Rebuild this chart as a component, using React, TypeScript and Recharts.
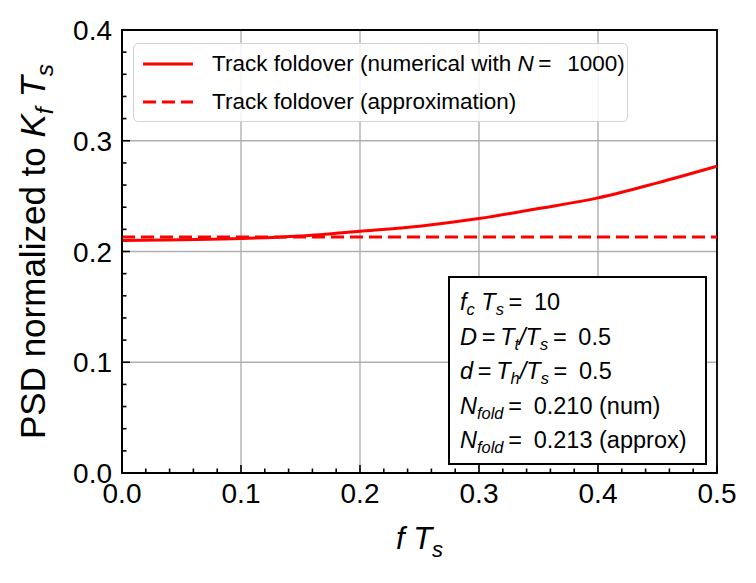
import React from 'react'
import {
  CartesianGrid,
  Legend,
  Line,
  LineChart,
  ReferenceArea,
  XAxis,
  YAxis,
} from 'recharts'

const FONT = '"Liberation Sans", Arial, Helvetica, sans-serif'
const RED = '#ff0000'
const GRID = '#b0b0b0'

// normalized frequency f*Ts
const fTs = [0, 0.05, 0.1, 0.15, 0.2, 0.25, 0.3, 0.35, 0.4, 0.45, 0.5]
// PSD / (Kf Ts)
const numerical = [0.21, 0.2107, 0.2117, 0.2141, 0.2183, 0.2229, 0.2297, 0.2388, 0.2484, 0.262, 0.277]
const approximation = [0.213, 0.213, 0.213, 0.213, 0.213, 0.213, 0.213, 0.213, 0.213, 0.213, 0.213]

const xTicks = [
  0, 0.02, 0.04, 0.06, 0.08, 0.1, 0.12, 0.14, 0.16, 0.18, 0.2, 0.22, 0.24,
  0.26, 0.28, 0.3, 0.32, 0.34, 0.36, 0.38, 0.4, 0.42, 0.44, 0.46, 0.48, 0.5,
]
const yTicks = [
  0, 0.02, 0.04, 0.06, 0.08, 0.1, 0.12, 0.14, 0.16, 0.18, 0.2, 0.22, 0.24,
  0.26, 0.28, 0.3, 0.32, 0.34, 0.36, 0.38, 0.4,
]
const xMajor = [0, 0.1, 0.2, 0.3, 0.4, 0.5]
const yMajor = [0, 0.1, 0.2, 0.3, 0.4]

const fcTs = 10
const dutyD = 0.5
const dutyd = 0.5
const nFoldNum = 0.21
const nFoldApprox = 0.213

const data = fTs.map((f, i) => ({
  f,
  numerical: numerical[i],
  approximation: approximation[i],
}))

function isMajor(v: number) {
  return Math.abs(v * 10 - Math.round(v * 10)) < 1e-6
}

function XTick({ x, y, payload }: any) {
  const major = isMajor(payload.value)
  return (
    <g>
      <line x1={x} x2={x} y1={y} y2={y - (major ? 8 : 4.5)} stroke="#000" strokeWidth={1.6} />
      {major && (
        <text x={x} y={y + 30} textAnchor="middle" fontSize={28} fontFamily={FONT} fill="#000">
          {payload.value.toFixed(1)}
        </text>
      )}
    </g>
  )
}

function YTick({ x, y, payload }: any) {
  const major = isMajor(payload.value)
  return (
    <g>
      <line x1={x} x2={x + (major ? 8 : 4.5)} y1={y} y2={y} stroke="#000" strokeWidth={1.6} />
      {major && (
        <text x={x - 10} y={y + 10} textAnchor="end" fontSize={28} fontFamily={FONT} fill="#000">
          {payload.value.toFixed(1)}
        </text>
      )}
    </g>
  )
}

function XTitle({ viewBox }: any) {
  const cx = viewBox.x + viewBox.width / 2
  const by = viewBox.y + 76
  return (
    <text x={cx} y={by} textAnchor="middle" fontSize={31} fontFamily={FONT} fill="#000">
      <tspan fontStyle="italic">f</tspan>
      <tspan> </tspan>
      <tspan fontStyle="italic">T</tspan>
      <tspan fontStyle="italic" fontSize={22} dy={8}>s</tspan>
    </text>
  )
}

function YTitle({ viewBox }: any) {
  const cx = viewBox.x + 45
  const cy = viewBox.y + viewBox.height / 2
  return (
    <text
      x={cx}
      y={cy}
      transform={`rotate(-90 ${cx} ${cy})`}
      textAnchor="middle"
      fontSize={35}
      fontFamily={FONT}
      fill="#000"
    >
      <tspan>PSD normalized to </tspan>
      <tspan fontStyle="italic">K</tspan>
      <tspan fontStyle="italic" fontSize={24.5} dy={8}>f</tspan>
      <tspan dy={-8}> </tspan>
      <tspan fontStyle="italic">T</tspan>
      <tspan fontStyle="italic" fontSize={24.5} dy={8}>s</tspan>
    </text>
  )
}

const Sub = ({ children }: { children: React.ReactNode }) => (
  <span style={{ fontSize: '0.7em', position: 'relative', top: '0.32em', fontStyle: 'italic' }}>{children}</span>
)
const I = ({ children }: { children: React.ReactNode }) => <i>{children}</i>

function LegendBox() {
  const row = (dash: string | undefined, label: React.ReactNode, top: number) => (
    <div style={{ position: 'absolute', left: 0, top, height: 30, display: 'flex', alignItems: 'center' }}>
      <svg width={78} height={30}>
        <line x1={9} x2={59} y1={15} y2={15} stroke={RED} strokeWidth={3} strokeDasharray={dash} />
      </svg>
      <span style={{ whiteSpace: 'nowrap' }}>{label}</span>
    </div>
  )
  return (
    <div
      style={{
        position: 'relative',
        width: 495,
        height: 79,
        boxSizing: 'border-box',
        border: '1.5px solid #d4d4d4',
        borderRadius: 5,
        background: 'rgba(255,255,255,0.85)',
        fontFamily: FONT,
        fontSize: 22.5,
        color: '#000',
      }}
    >
      {row(undefined, <>Track foldover (numerical with <I>N</I>{'\u2009=\u2002\u2009'}1000)</>, 5)}
      {row('13 6', <>Track foldover (approximation)</>, 43)}
    </div>
  )
}

export default function App() {
  return (
    <div style={{ position: 'absolute', left: 0, top: 0, width: 756, height: 583, background: '#fff' }}>
      <LineChart
        width={756}
        height={583}
        data={data}
        margin={{ top: 30, right: 39, bottom: 0, left: 0 }}
      >
        <CartesianGrid
          stroke={GRID}
          strokeWidth={1.4}
          verticalValues={xMajor}
          horizontalValues={yMajor}
        />
        <XAxis
          dataKey="f"
          type="number"
          domain={[0, 0.5]}
          ticks={xTicks}
          interval={0}
          height={110}
          tickSize={0}
          tickMargin={0}
          tickLine={false}
          tick={<XTick />}
          axisLine={{ stroke: '#000', strokeWidth: 1.8 }}
          label={<XTitle />}
        />
        <YAxis
          type="number"
          domain={[0, 0.4]}
          ticks={yTicks}
          interval={0}
          width={122}
          tickSize={0}
          tickMargin={0}
          tickLine={false}
          tick={<YTick />}
          axisLine={{ stroke: '#000', strokeWidth: 1.8 }}
          label={<YTitle />}
        />
        <Line
          type="monotone"
          dataKey="approximation"
          stroke={RED}
          strokeWidth={3}
          strokeDasharray="13 6"
          dot={false}
          activeDot={false}
          isAnimationActive={false}
        />
        <Line
          type="monotone"
          dataKey="numerical"
          stroke={RED}
          strokeWidth={3}
          dot={false}
          activeDot={false}
          isAnimationActive={false}
        />
        <ReferenceArea x1={0} x2={0.5} y1={0} y2={0.4} fill="none" stroke="#000" strokeWidth={1.8} />
        <Legend
          layout="horizontal"
          verticalAlign="middle"
          align="center"
          wrapperStyle={{ top: 43, left: 133, width: 'auto', height: 'auto' }}
          content={<LegendBox />}
        />
      </LineChart>
      <div
        style={{
          position: 'absolute',
          left: 448,
          top: 276,
          width: 259,
          height: 189,
          boxSizing: 'border-box',
          border: '2px solid #000',
          background: '#fff',
          fontFamily: FONT,
          fontSize: 23.5,
          lineHeight: '32.5px',
          padding: '8px 0 0 10px',
          color: '#000',
          whiteSpace: 'nowrap',
        }}
      >
        <div><I>f</I><Sub>c</Sub> <I>T</I><Sub>s</Sub>{'\u2009=\u2002'}{fcTs}</div>
        <div><I>D</I>{'\u2009=\u2009'}<I>T</I><Sub>t</Sub><I>/T</I><Sub>s</Sub>{'\u2009=\u2002'}{dutyD}</div>
        <div><I>d</I>{'\u2009=\u2009'}<I>T</I><Sub>h</Sub><I>/T</I><Sub>s</Sub>{'\u2009=\u2002'}{dutyd}</div>
        <div><I>N</I><Sub>fold</Sub>{'\u2009=\u2002'}{nFoldNum.toFixed(3)} (num)</div>
        <div><I>N</I><Sub>fold</Sub>{'\u2009=\u2002'}{nFoldApprox.toFixed(3)} (approx)</div>
      </div>
    </div>
  )
}
